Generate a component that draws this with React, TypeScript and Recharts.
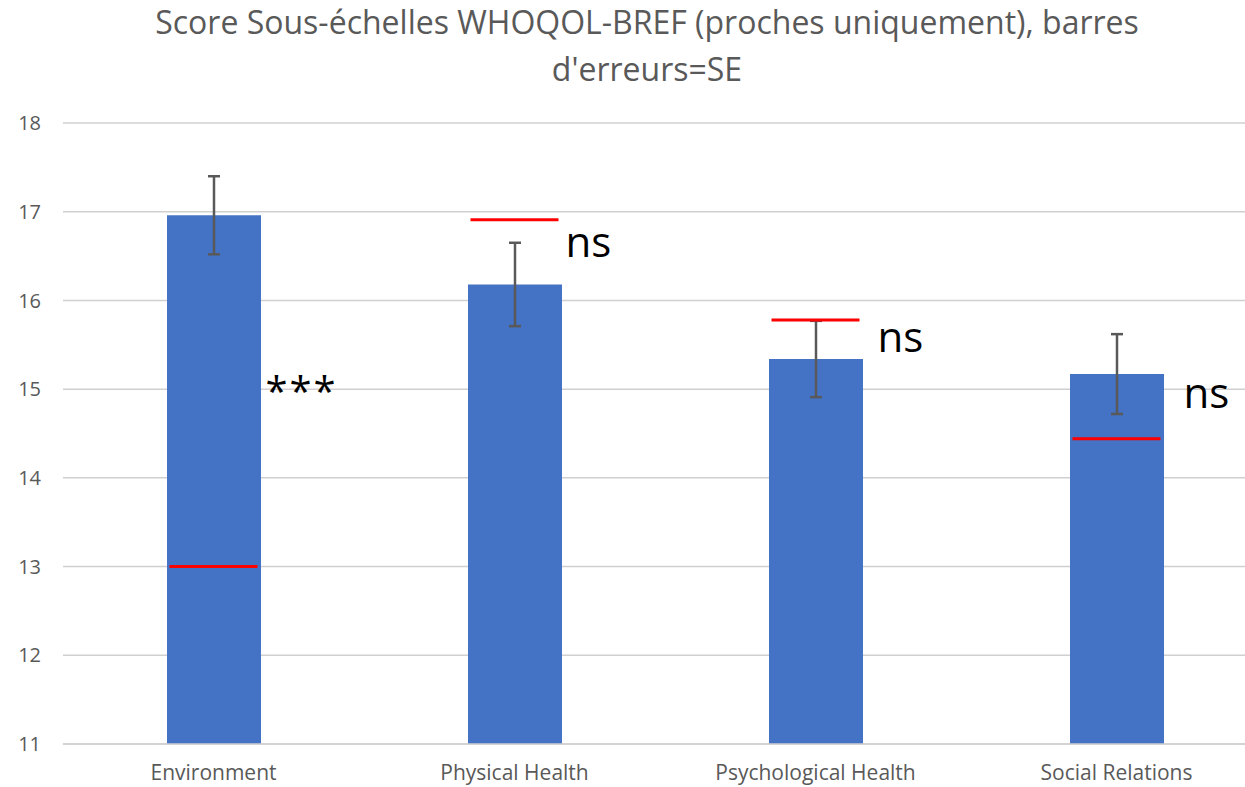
import React from "react";
import {
  ComposedChart,
  Bar,
  ErrorBar,
  Scatter,
  XAxis,
  YAxis,
  CartesianGrid,
} from "recharts";

const categories = [
  "Environment",
  "Physical Health",
  "Psychological Health",
  "Social Relations",
];
const means = [16.96, 16.18, 15.34, 15.17];
const errors = [0.44, 0.47, 0.43, 0.45];
const norms = [13.0, 16.91, 15.78, 14.44];
const notes = ["***", "ns", "ns", "ns"];
const noteY = [14.81, 16.49, 15.42, 14.79];
const yTicks = [11, 12, 13, 14, 15, 16, 17, 18];

// horizontal shift of each significance mark from the bar centre
const noteDx = [52, 51, 62, 67];

const data = categories.map((name, i) => ({
  name,
  mean: means[i],
  se: errors[i],
  norm: norms[i],
  noteY: noteY[i],
  note: notes[i],
}));

const FONT = "'Open Sans', 'Noto Sans', sans-serif";

function NormLine(props: any) {
  const { cx, cy } = props;
  if (cx == null || cy == null) return null;
  return (
    <line x1={cx - 44} x2={cx + 44} y1={cy} y2={cy} stroke="#FF0000" strokeWidth={3} />
  );
}

function NoteMark(props: any) {
  const { cx, cy, payload } = props;
  if (cx == null || cy == null) return null;
  const i = categories.indexOf(payload.name);
  const stars = payload.note === "***";
  return (
    <text
      x={cx + noteDx[i]}
      y={cy}
      fill="#000"
      fontFamily={FONT}
      fontSize={stars ? 40 : 42}
      letterSpacing={stars ? 2 : 0}
    >
      {payload.note}
    </text>
  );
}

export default function App() {
  return (
    <div
      style={{
        position: "absolute",
        left: 0,
        top: 0,
        width: 1245,
        height: 787,
        overflow: "hidden",
        background: "#fff",
      }}
    >
      <div
        style={{
          position: "absolute",
          left: 0,
          top: -2,
          width: 1294,
          textAlign: "center",
          fontFamily: FONT,
          fontSize: 32,
          lineHeight: "47px",
          color: "#595959",
        }}
      >
        Score Sous-échelles WHOQOL-BREF (proches uniquement), barres
        <br />
        d'erreurs=SE
      </div>
      <ComposedChart
        width={1290}
        height={787}
        data={data}
        margin={{ top: 123, right: 23, bottom: 0, left: 0 }}
      >
        <CartesianGrid vertical={false} stroke="#D0D0D0" strokeWidth={1.5} />
        <XAxis
          dataKey="name"
          height={43}
          tickLine={false}
          axisLine={{ stroke: "#D0D0D0", strokeWidth: 1.5 }}
          tickMargin={15}
          tick={{ fill: "#595959", fontSize: 21, fontFamily: FONT }}
        />
        <YAxis
          width={63}
          domain={[11, 18]}
          ticks={yTicks}
          axisLine={false}
          tickLine={false}
          tickMargin={16}
          tick={{ fill: "#595959", fontSize: 20, fontFamily: FONT }}
        />
        <Bar dataKey="mean" fill="#4472C4" barSize={94} isAnimationActive={false}>
          <ErrorBar
            dataKey="se"
            width={6}
            strokeWidth={2.5}
            stroke="#595959"
            isAnimationActive={false}
          />
        </Bar>
        <Scatter dataKey="norm" shape={<NormLine />} isAnimationActive={false} />
        <Scatter dataKey="noteY" shape={<NoteMark />} isAnimationActive={false} />
      </ComposedChart>
    </div>
  );
}
